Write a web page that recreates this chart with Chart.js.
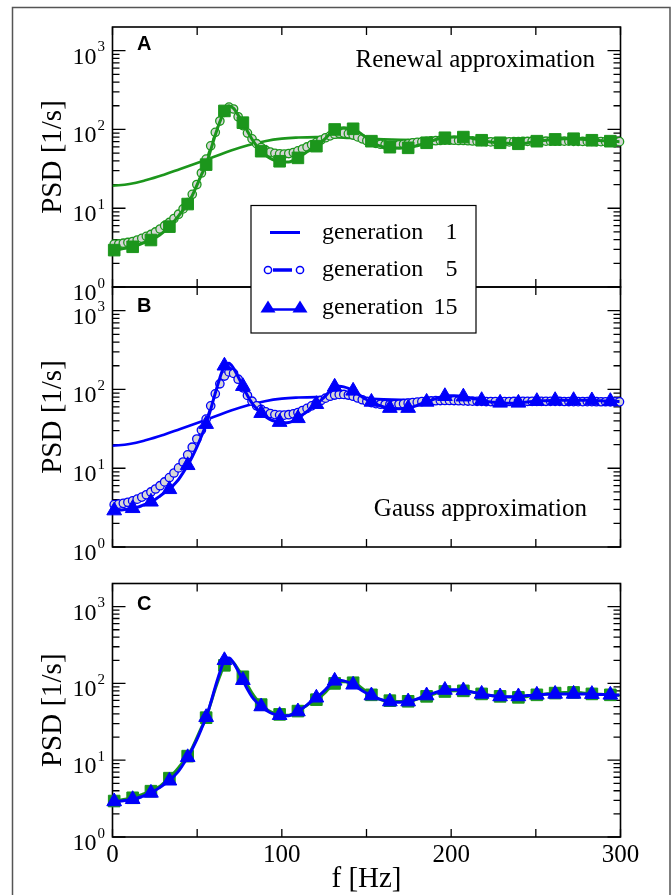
<!DOCTYPE html>
<html><head><meta charset="utf-8">
<script src="https://cdn.jsdelivr.net/npm/chart.js@4"></script>
<style>
html,body{margin:0;padding:0;background:#fff;}
#wrap{position:relative;width:671px;height:895px;overflow:hidden;background:#fff;}
canvas{position:absolute;left:0;top:0;}
</style></head><body>
<div id="wrap">
<canvas id="cC" width="671" height="895"></canvas>
<canvas id="cB" width="671" height="895"></canvas>
<canvas id="cA" width="671" height="895"></canvas>
</div>
<script>
// ---------------- DATA ----------------
const freqFine = [1.0,3.7,6.4,9.1,11.9,14.6,17.3,20.0,22.7,25.4,28.1,30.8,33.6,36.3,39.0,41.7,44.4,47.1,49.8,52.5,
55.3,58.0,60.7,63.4,66.1,68.8,71.5,74.2,77.0,79.7,82.4,85.1,87.8,90.5,93.2,95.9,98.7,101.4,104.1,106.8,
109.5,112.2,114.9,117.6,120.4,123.1,125.8,128.5,131.2,133.9,136.6,139.3,142.1,144.8,147.5,150.2,152.9,155.6,158.3,161.0,
163.8,166.5,169.2,171.9,174.6,177.3,180.0,182.7,185.5,188.2,190.9,193.6,196.3,199.0,201.7,204.4,207.2,209.9,212.6,215.3,
218.0,220.7,223.4,226.1,228.9,231.6,234.3,237.0,239.7,242.4,245.1,247.8,250.6,253.3,256.0,258.7,261.4,264.1,266.8,269.5,
272.3,275.0,277.7,280.4,283.1,285.8,288.5,291.2,294.0,296.7,299.4];

const renewalGen5 = [3.5,3.52,3.6,3.68,3.78,3.95,4.15,4.4,4.65,5.0,5.45,6.0,6.6,7.4,8.4,9.8,11.8,15,20,28,
42,62,92,128,165,192,182,145,112,90,76,66,59,54.5,51.5,49.8,49,48.8,49.5,51,
53.5,56.5,60,64,68.5,73.5,78.5,83,87,89.5,90,88.5,85,80.5,76,72,69,66.5,65,64,
63.5,63.5,64,65,66,67.5,68.5,69.5,70.5,71.5,72,72.5,73,73,73,72.5,72.5,72,71.5,71,
70.5,70,69.5,69.5,69.5,69.5,69.5,70,70,70.5,70.5,71,71,71,71,71,71,71,71,71,
70.5,70.5,70.5,70.5,70.5,70,70,70,70,70,70];

const renewalGen15 = [2.94,3.0,3.07,3.15,3.24,3.38,3.55,3.75,3.95,4.25,4.6,5.15,5.84,6.8,8.0,9.5,11.3,14.5,19.5,26.5,
35.8,55,85,125,172,198,185,152,122,95,75,62,53,47,43,40.5,39.5,38.5,38.5,40.5,
43.6,47.5,52,56.5,61.4,68,77,89,100,104,105,104,102,95,86,78,71,65,61.5,59.5,
59.6,58.8,58.3,58.2,58.5,60,62.5,65,67.8,71,74.5,77,78.5,79.5,80,80,80,79,77,75,
73,71,69.5,68.5,67.8,67,66.5,66,65.8,66.5,67.5,69.5,71,72,73,74,74.8,75.5,76,76.3,
76.3,76,75,74,73,72.5,72,71.5,71,70.5,70];

const gaussGen5 = [3.45,3.5,3.58,3.7,3.85,4.05,4.3,4.6,5.0,5.45,6.0,6.7,7.6,8.7,10.1,12,14.8,18.5,23.5,30.5,
42,62,88,118,148,167,160,135,105,84,71,62,56,52,49.5,48,47.3,47.2,47.8,49,
51,54,57.5,62,67,72.5,77.5,82,85,86.5,86.5,85,82,78,74,70.5,68,66,65,64.5,
64.5,64.5,65,66,67,68,69,70,71,71.5,72,72.3,72.5,72.5,72.3,72,71.7,71.3,71,70.7,
70.5,70.3,70.2,70.2,70.2,70.3,70.4,70.5,70.6,70.7,70.8,70.8,70.8,70.8,70.8,70.7,70.6,70.5,70.4,70.3,
70.2,70.1,70,70,70,69.9,69.8,69.8,69.7,69.7,69.6];

const gaussGen15 = [2.9,2.93,2.97,3.03,3.1,3.2,3.35,3.53,3.75,4.05,4.45,4.9,5.4,6.2,7.2,8.8,10.9,14,18.5,25.5,
36.3,56,90,140,200,215,185,145,110,84,67,57,50,45,41.5,39.5,38.5,37.8,38,40,
43,47.5,52.5,58.5,65,73,83,96,108,110,108,103,96,88,80,74,69.5,65.5,62,59.5,
58,57,57,57.5,58,60,63,66.5,69.5,73,76.5,79.5,82,83,83,82.5,81,79,77,75,
73,71,69.5,68.5,67.6,67,66.8,67,67.6,68.5,69.5,70.3,71,71.5,72,72.5,73,73,73,73,
73,73,73,72.8,72.5,72,71.7,71.3,71,70.7,70.5];

const freqGen1 = [0,10,20,30,40,50,60,70,80,90,100,110,120,130,140,150,170,190,210,230,250,270,300];
const gen1Vals = [19.3,20.3,22.8,26.5,31.5,37.5,45,54,63,71,76.5,79,80,79.5,78,76.5,74,72.5,71.5,71,70.5,70,69.5];

const xTickValues = [0,50,100,150,200,250,300];
const xTickLabels = ['0','100','200','300'];
const xTickLabelValues = [0,100,200,300];
const yDecades = [1,10,100,1000];
const yExponents = ['0','1','2','3'];
const legendLabels = ['generation', 'generation', 'generation'];
const legendNumbers = ['1','5','15'];

// ---------------- STYLE ----------------
const W = 671, H = 895;
const GREEN = 'rgb(28,150,28)';
const BLUE = 'rgb(0,0,250)';
const SERIF = '"Liberation Serif","Times New Roman",serif';
const SANS = '"Liberation Sans",Arial,sans-serif';
const markerEvery = 4;

function pts(fx, vals){ return vals.map((v,i)=>({x:fx[i], y:v})); }

function dsGen1(color, order){
  return {order, data: pts(freqGen1, gen1Vals), borderColor: color, borderWidth: 2.6, pointRadius: 0, tension: 0.4, fill:false};
}
function dsGen5(vals, color, order){
  return {order, data: pts(freqFine, vals), borderColor: color, borderWidth: 1.5, pointRadius: 4.2, pointStyle:'circle',
    pointBackgroundColor: '#d6d6d6', pointBorderColor: color, pointBorderWidth: 1.3, cubicInterpolationMode:'monotone', fill:false, clip:false};
}
function dsGen15(vals, color, style, r, order){
  return {order, data: pts(freqFine, vals), borderColor: color, borderWidth: 3, pointStyle: style,
    pointRadius: (c)=> (c.dataIndex % markerEvery === 0 ? r : 0),
    pointBackgroundColor: color, pointBorderColor: color, pointBorderWidth: 1,
    cubicInterpolationMode:'monotone', fill:false, clip:false};
}

function panelPlugin(cfg){
  return {
    id: 'panel' + cfg.letter,
    beforeDraw(chart){
      if (!cfg.outerFrame) return;
      const ctx = chart.ctx;
      ctx.save();
      ctx.strokeStyle = '#555'; ctx.lineWidth = 1.5;
      ctx.strokeRect(12.5, 7.5, 657.5, 910);
      ctx.restore();
    },
    beforeDatasetsDraw(chart){
      const {ctx, chartArea:a, scales:{x, y}} = chart;
      ctx.save();
      ctx.strokeStyle = '#000';
      ctx.lineWidth = 1.6;
      ctx.strokeRect(a.left, a.top, a.right - a.left, a.bottom - a.top);
      ctx.lineWidth = 1.3;
      ctx.beginPath();
      xTickValues.forEach(v => {
        const px = x.getPixelForValue(v);
        ctx.moveTo(px, a.bottom); ctx.lineTo(px, a.bottom - 8);
        ctx.moveTo(px, a.top); ctx.lineTo(px, a.top + 8);
      });
      yDecades.forEach(d => {
        for (let m = 1; m <= 9; m++) {
          const v = d * m;
          if (v >= 2000) break;
          const py = y.getPixelForValue(v);
          const len = m === 1 ? 13 : 7;
          ctx.moveTo(a.left, py); ctx.lineTo(a.left + len, py);
          ctx.moveTo(a.right, py); ctx.lineTo(a.right - len, py);
        }
      });
      ctx.stroke();
      ctx.restore();
    },
    afterDraw(chart){
      const {ctx, chartArea:a, scales:{x, y}} = chart;
      ctx.save();
      ctx.fillStyle = '#000';
      yDecades.forEach((d, i) => {
        const py = y.getPixelForValue(d);
        ctx.font = '24px ' + SERIF;
        ctx.textAlign = 'right'; ctx.textBaseline = 'alphabetic';
        ctx.fillText('10', 96.5, py + 13);
        ctx.font = '15px ' + SERIF;
        ctx.textAlign = 'left';
        ctx.fillText(yExponents[i], 97.5, py + 0.5);
      });
      ctx.save();
      ctx.translate(53, (a.top + a.bottom) / 2);
      ctx.rotate(-Math.PI / 2);
      ctx.font = '29px ' + SERIF;
      ctx.textAlign = 'center'; ctx.textBaseline = 'middle';
      ctx.fillText('PSD [1/s]', 0, 0);
      ctx.restore();
      ctx.font = 'bold 20px ' + SANS;
      ctx.textAlign = 'left'; ctx.textBaseline = 'alphabetic';
      ctx.fillText(cfg.letter, 137, cfg.letterY);
      if (cfg.note) {
        ctx.font = '25px ' + SERIF;
        ctx.textAlign = 'right';
        ctx.fillText(cfg.note, cfg.noteX, cfg.noteY);
      }
      if (cfg.xLabels) {
        ctx.font = '25px ' + SERIF;
        ctx.textAlign = 'center';
        xTickLabelValues.forEach((v, i) => {
          ctx.fillText(xTickLabels[i], x.getPixelForValue(v), 862);
        });
        ctx.font = '29px ' + SERIF;
        ctx.fillText('f [Hz]', (a.left + a.right) / 2, 887);
      }
      if (cfg.legend) {
        const bx = 251, by = 205.5, bw = 225, bh = 127.5;
        ctx.fillStyle = '#fff';
        ctx.fillRect(bx, by, bw, bh);
        ctx.strokeStyle = '#000'; ctx.lineWidth = 1.2;
        ctx.strokeRect(bx, by, bw, bh);
        const rows = [232.5, 270, 307.5];
        ctx.fillStyle = '#000';
        ctx.font = '24px ' + SERIF;
        rows.forEach((cy, i) => {
          ctx.textAlign = 'left';
          ctx.fillText(legendLabels[i], 322, cy + 6);
          ctx.textAlign = 'right';
          ctx.fillText(legendNumbers[i], 457.5, cy + 6);
        });
        ctx.strokeStyle = BLUE; ctx.fillStyle = BLUE;
        ctx.lineWidth = 3;
        ctx.beginPath(); ctx.moveTo(270, rows[0]); ctx.lineTo(300, rows[0]); ctx.stroke();
        ctx.lineWidth = 3.5;
        ctx.beginPath(); ctx.moveTo(273, rows[1]); ctx.lineTo(292, rows[1]); ctx.stroke();
        ctx.lineWidth = 1.5; ctx.fillStyle = '#fff';
        [268, 300].forEach(cx => { ctx.beginPath(); ctx.arc(cx, rows[1], 3.6, 0, Math.PI*2); ctx.fill(); ctx.stroke(); });
        ctx.fillStyle = BLUE;
        ctx.lineWidth = 2.5;
        ctx.beginPath(); ctx.moveTo(268, rows[2] + 2); ctx.lineTo(300, rows[2] + 2); ctx.stroke();
        [268, 300].forEach(cx => {
          ctx.beginPath();
          ctx.moveTo(cx, rows[2] - 7); ctx.lineTo(cx + 7.5, rows[2] + 5); ctx.lineTo(cx - 7.5, rows[2] + 5);
          ctx.closePath(); ctx.fill();
        });
      }
      ctx.restore();
    }
  };
}

function makePanel(id, area, datasets, cfg){
  return new Chart(document.getElementById(id), {
    type: 'line',
    data: { datasets },
    options: {
      responsive: false, animation: false, devicePixelRatio: 1, events: [],
      layout: { padding: { left: area.left, right: W - area.right, top: area.top, bottom: H - area.bottom } },
      plugins: { legend: { display: false }, tooltip: { enabled: false }, title: {display:false} },
      scales: {
        x: { type: 'linear', min: 0, max: 300, display: false },
        y: { type: 'logarithmic', min: 1, max: 2000, display: false }
      }
    },
    plugins: [panelPlugin(cfg)]
  });
}

// lower 'order' is drawn on top
makePanel('cC', {left:112.5, right:620.5, top:583.5, bottom:837}, [
  dsGen15(renewalGen15, GREEN, 'rect', 8.2, 2),
  dsGen15(gaussGen15, BLUE, 'triangle', 8.5, 1)
], {letter:'C', letterY:610, xLabels:true, outerFrame:true});

makePanel('cB', {left:112.5, right:620.5, top:287, bottom:547}, [
  dsGen1(BLUE, 3),
  dsGen5(gaussGen5, BLUE, 2),
  dsGen15(gaussGen15, BLUE, 'triangle', 8.5, 1)
], {letter:'B', letterY:311.5, note:'Gauss approximation', noteX:587, noteY:515.5});

makePanel('cA', {left:112.5, right:620.5, top:27, bottom:287}, [
  dsGen1(GREEN, 3),
  dsGen5(renewalGen5, GREEN, 2),
  dsGen15(renewalGen15, GREEN, 'rect', 8.2, 1)
], {letter:'A', letterY:49.5, note:'Renewal approximation', noteX:595, noteY:67, legend:true});
</script>
</body></html>
